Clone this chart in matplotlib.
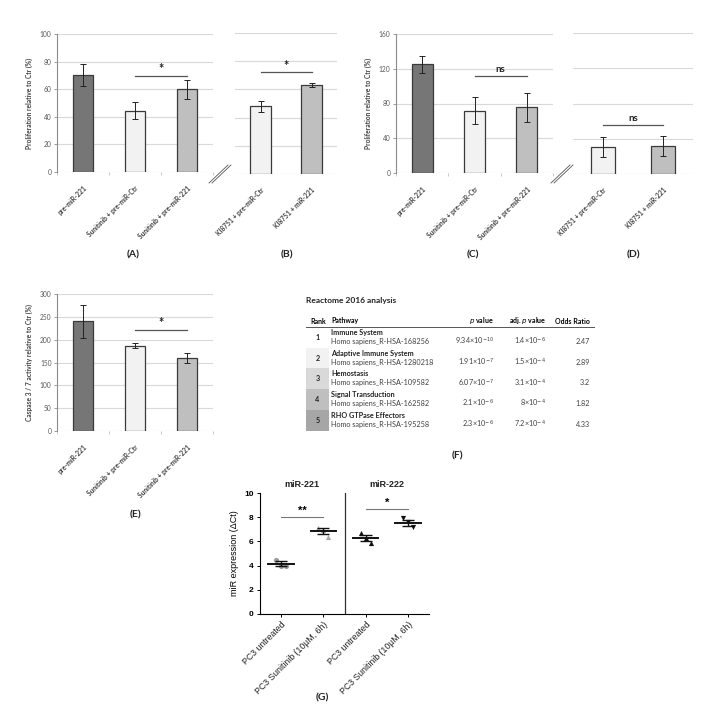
import matplotlib
matplotlib.use("Agg")
import matplotlib.pyplot as plt

W, H = 713, 715

# (A)/(B) proliferation, (C)/(D) second cell line, (E) caspase activity
a_labels = ["pre-miR-221", "Sunitinib + pre-miR-Ctr", "Sunitinib + pre-miR-221"]
b_labels = ["KI8751 + pre-miR-Ctr", "KI8751 + miR-221"]
a_values = [70.5, 44.5, 60.0]
a_errors = [8.0, 6.0, 7.0]
b_values = [48.0, 63.0]
b_errors = [4.0, 1.5]
c_values = [125.0, 71.5, 75.5]
c_errors = [10.0, 15.5, 16.5]
d_values = [31.0, 32.0]
d_errors = [11.5, 11.5]
e_values = [240.0, 187.0, 160.0]
e_errors = [36.0, 5.0, 10.0]

# (F) Reactome table
f_rank = ["1", "2", "3", "4", "5"]
f_pathway = ["Immune System", "Adaptive Immune System", "Hemostasis",
             "Signal Transduction", "RHO GTPase Effectors"]
f_species = ["Homo sapiens_R-HSA-168256", "Homo sapiens_R-HSA-1280218",
             "Homo sapines_R-HSA-109582", "Homo sapiens_R-HSA-162582",
             "Homo sapiens_R-HSA-195258"]
f_pvalue = [r"9.34×10$^{-10}$", r"1.91×10$^{-7}$", r"6.07×10$^{-7}$",
            r"2.1×10$^{-6}$", r"2.3×10$^{-6}$"]
f_adj = [r"1.4×10$^{-6}$", r"1.5×10$^{-4}$", r"3.1×10$^{-4}$",
         r"8×10$^{-4}$", r"7.2×10$^{-4}$"]
f_odds = ["2.47", "2.89", "3.2", "1.82", "4.33"]

# (G) miR expression
g_titles = ["miR-221", "miR-222"]
g_labels = ["PC3 untreated", "PC3 Sunitinib (10µM, 6h)",
            "PC3 untreated", "PC3 Sunitinib (10µM, 6h)"]
g_points = [[4.5, 4.0, 3.95], [7.1, 6.95, 6.35], [6.7, 6.3, 5.85], [7.95, 7.6, 7.2]]
g_means = [4.15, 6.85, 6.3, 7.5]
g_sems = [0.2, 0.25, 0.25, 0.25]

FONT = ["Lato", "DejaVu Sans"]
ARIAL = ["Liberation Sans", "DejaVu Sans"]
plt.rcParams["font.family"] = FONT
TXT = "#404040"
GRID = "#d9d9d9"


def rect(x0, y0, x1, y1):
    return [x0 / W, 1 - y1 / H, (x1 - x0) / W, (y1 - y0) / H]


def bar_panel(ax, labels, values, errors, colors, ymax, step, show_y, ylabel=None):
    x = list(range(len(values)))
    ax.bar(x, values, width=0.4, color=colors, edgecolor="#3a3a3a", linewidth=0.9,
           zorder=2)
    ax.errorbar(x, values, yerr=errors, fmt="none", ecolor="#222222",
                elinewidth=0.7, capsize=2, capthick=0.7, zorder=3)
    ax.set_xlim(-0.5, len(values) - 0.5)
    ax.set_ylim(0, ymax)
    ax.set_yticks(range(0, ymax + 1, step))
    ax.yaxis.grid(True, color=GRID, linewidth=0.8)
    ax.set_axisbelow(True)
    for s in ["top", "right", "bottom"]:
        ax.spines[s].set_visible(False)
    ax.set_xticks(x)
    ax.set_xticklabels(labels, rotation=45, ha="right", rotation_mode="anchor",
                       fontsize=4.8, fontweight="bold", color=TXT)
    ax.tick_params(axis="x", which="major", length=0, pad=9)
    if show_y:
        ax.set_xticks([i - 0.5 for i in range(len(values) + 1)], minor=True)
        ax.tick_params(axis="x", which="minor", length=2, width=0.6, color="#bfbfbf")
        ax.spines["left"].set_color("#8c8c8c")
        ax.spines["left"].set_linewidth(0.8)
        ax.tick_params(axis="y", length=2, width=0.6, color="#8c8c8c",
                       labelsize=4.8, labelcolor="#595959", pad=2)
        ax.set_ylabel(ylabel, fontsize=4.8, fontweight="bold", color=TXT, labelpad=5)
    else:
        ax.spines["left"].set_visible(False)
        ax.tick_params(axis="y", left=False, labelleft=False)
    ax.patch.set_alpha(0)


def bracket(ax, x0, x1, y, label, dy, size=9):
    ax.plot([x0, x1], [y, y], color="#555555", linewidth=0.9, zorder=4)
    ax.text((x0 + x1) / 2, y + dy, label, ha="center", va="bottom",
            fontsize=size, fontweight="bold", color="#222222")


fig = plt.figure(figsize=(W / 100, H / 100), dpi=100)

dark, light, mid = "#767676", "#f2f2f2", "#bfbfbf"
prolif = "Proliferation relative to Ctr (%)"

ax_a = fig.add_axes(rect(57, 34, 213, 172))
bar_panel(ax_a, a_labels, a_values, a_errors, [dark, light, mid], 100, 20, True, prolif)
bracket(ax_a, 1, 2, 69.5, "*", 0.5)

ax_b = fig.add_axes(rect(235, 33, 337, 174))
bar_panel(ax_b, b_labels, b_values, b_errors, [light, mid], 100, 20, False)
bracket(ax_b, 0, 1, 72, "*", 0.5)

ax_c = fig.add_axes(rect(396, 34, 553, 173))
bar_panel(ax_c, a_labels, c_values, c_errors, [dark, light, mid], 160, 40, True, prolif)
bracket(ax_c, 1, 2, 112, "ns", 2, size=7)

ax_d = fig.add_axes(rect(573, 33, 693, 174))
bar_panel(ax_d, b_labels, d_values, d_errors, [light, mid], 160, 40, False)
bracket(ax_d, 0, 1, 56, "ns", 2, size=7)

ax_e = fig.add_axes(rect(57, 294, 213, 431))
bar_panel(ax_e, a_labels, e_values, e_errors, [dark, light, mid], 300, 50, True,
          "Caspase 3 / 7 activity relative to Ctr (%)")
bracket(ax_e, 1, 2, 221, "*", 2)

# (G) scatter with mean +/- SEM
ax_g = fig.add_axes(rect(260, 493, 429, 614))
g_style = [("o", "#9a9a9a"), ("^", "#a8a8a8"), ("^", "#111111"), ("v", "#111111")]
offsets = [-0.12, 0.0, 0.12]
for i, pts in enumerate(g_points):
    m, c = g_style[i]
    ax_g.scatter([i + o for o in offsets], pts, marker=m, s=14, color=c,
                 linewidths=0, zorder=2)
    ax_g.plot([i - 0.3, i + 0.3], [g_means[i], g_means[i]], color="#111111",
              linewidth=1.4, zorder=3)
    ax_g.errorbar([i], [g_means[i]], yerr=[g_sems[i]], fmt="none", ecolor="#111111",
                  elinewidth=1.0, capsize=4, capthick=1.0, zorder=3)
ax_g.axvline(1.5, color="#333333", linewidth=0.9)
ax_g.set_xlim(-0.5, 3.5)
ax_g.set_ylim(0, 10)
ax_g.set_yticks(range(0, 11, 2))
ax_g.set_xticks(range(4))
ax_g.set_xticklabels(g_labels, rotation=45, ha="right", rotation_mode="anchor",
                     fontsize=6.3, family=ARIAL, color="#222222")
for lab in ax_g.get_yticklabels():
    lab.set_family(ARIAL)
    lab.set_fontweight("bold")
    lab.set_fontsize(6)
ax_g.tick_params(axis="both", length=2.5, width=0.7, pad=2)
for s in ["top", "right"]:
    ax_g.spines[s].set_visible(False)
for s in ["left", "bottom"]:
    ax_g.spines[s].set_linewidth(0.8)
ax_g.set_ylabel("miR expression (ΔCt)", fontsize=6.5, family=ARIAL, labelpad=4)
for k, t in enumerate(g_titles):
    ax_g.text(2 * k + 0.5, 10.3, t, ha="center", va="bottom", fontsize=6.5,
              fontweight="bold", family=ARIAL, color="#222222")
ax_g.plot([0, 1], [8, 8], color="#777777", linewidth=0.8)
ax_g.text(0.5, 8.1, "**", ha="center", va="bottom", fontsize=8, fontweight="bold",
          family=ARIAL)
ax_g.plot([2, 3], [8.7, 8.7], color="#777777", linewidth=0.8)
ax_g.text(2.5, 8.8, "*", ha="center", va="bottom", fontsize=8, fontweight="bold",
          family=ARIAL)
ax_g.patch.set_alpha(0)

# overlay in pixel coordinates for table, labels and axis breaks
ov = fig.add_axes([0, 0, 1, 1])
ov.set_xlim(0, W)
ov.set_ylim(H, 0)
ov.axis("off")
ov.patch.set_alpha(0)

for xb, yb in [(209, 183), (551, 183)]:
    for d in (0, 3):
        ov.plot([xb + d, xb + d + 19], [yb, yb - 18], color="#555555", linewidth=0.6)

for lab, x, y in [("(A)", 133, 255), ("(B)", 287, 255), ("(C)", 473, 255),
                  ("(D)", 633, 255), ("(E)", 136, 515), ("(F)", 457, 456),
                  ("(G)", 322, 698)]:
    ov.text(x, y, lab, ha="center", va="center", fontsize=7.5, fontweight="bold",
            color="#222222")

# table (F)
ov.text(306, 301, "Reactome 2016 analysis", fontsize=6, fontweight="bold",
        ha="left", va="center", color="#222222")
hy = 321
ov.text(310, hy, "Rank", fontsize=5, fontweight="bold", ha="left", va="center")
ov.text(331, hy, "Pathway", fontsize=5, fontweight="bold", ha="left", va="center")
ov.text(494, hy, r"$\mathbf{\it{p}}$ value", fontsize=5, fontweight="bold",
        ha="right", va="center")
ov.text(546, hy, r"adj. $\mathbf{\it{p}}$ value", fontsize=5, fontweight="bold",
        ha="right", va="center")
ov.text(590, hy, "Odds Ratio", fontsize=5, fontweight="bold", ha="right", va="center")
ov.plot([306, 594], [326.5, 326.5], color="#555555", linewidth=0.7)

shades = ["#ffffff", "#f2f2f2", "#d9d9d9", "#bfbfbf", "#a6a6a6"]
row_h = 20.7
for i in range(len(f_rank)):
    top = 327 + i * row_h
    ov.add_patch(plt.Rectangle((306, top), 23, row_h, color=shades[i], linewidth=0))
    ov.text(317.5, top + row_h / 2, f_rank[i], fontsize=5.2, fontweight="bold",
            ha="center", va="center", color="#222222")
    ov.text(331, top + 5.5, f_pathway[i], fontsize=5.2, fontweight="bold",
            ha="left", va="center", color="#222222")
    sub = top + 14.5
    ov.text(331, sub, f_species[i], fontsize=5.2, ha="left", va="center", color=TXT)
    ov.text(494, sub, f_pvalue[i], fontsize=5.2, ha="right", va="center", color=TXT)
    ov.text(546, sub, f_adj[i], fontsize=5.2, ha="right", va="center", color=TXT)
    ov.text(590, sub, f_odds[i], fontsize=5.2, ha="right", va="center", color=TXT)

fig.savefig("out.png", dpi=100)
